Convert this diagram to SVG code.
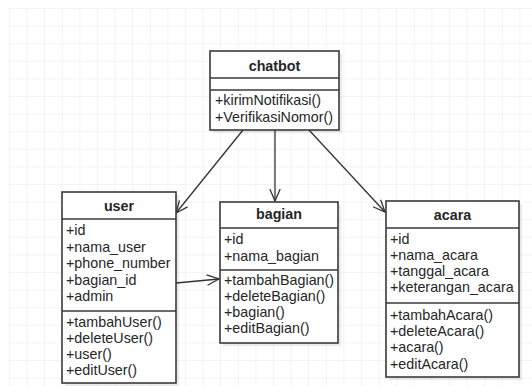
<svg xmlns="http://www.w3.org/2000/svg" width="532" height="386" viewBox="0 0 532 386">
  <defs>
    <pattern id="grid" x="9" y="8" width="17.6" height="17.6" patternUnits="userSpaceOnUse">
      <path d="M0,0 H17.6 M0,0 V17.6" fill="none" stroke="#e8e8e8" stroke-width="1"/>
    </pattern>
    <marker id="open" viewBox="0 0 14 14" refX="13" refY="7" markerWidth="14" markerHeight="14" markerUnits="userSpaceOnUse" orient="auto">
      <path d="M1,1.8 L13,7 L1,12.2" fill="none" stroke="#333" stroke-width="1.3"/>
    </marker>
    <style>
      .box { fill: #fff; stroke: #3a3a3a; stroke-width: 1.6; }
      .shadow { fill: #000; opacity: 0.08; }
      .sep { stroke: #3a3a3a; stroke-width: 1.6; }
      text { font-family: "Liberation Sans", Arial, sans-serif; font-size: 14.3px; fill: #262626; }
      .title { font-weight: bold; text-anchor: middle; }
      .edge { fill: none; stroke: #333; stroke-width: 1.3; marker-end: url(#open); }
    </style>
  </defs>

  <!-- canvas -->
  <rect width="532" height="386" fill="#fff"/>
  <rect x="9" y="8" width="523" height="378" fill="url(#grid)"/>

  <!-- connectors -->
  <g id="connectors">
    <path class="edge" d="M243,130 L176,213"/>
    <path class="edge" d="M275,130 L275,201"/>
    <path class="edge" d="M309,130 L385,212"/>
    <path class="edge" d="M176,283 L219,279"/>
  </g>

  <!-- chatbot -->
  <g id="chatbot">
    <rect class="shadow" x="213" y="54" width="129" height="79"/>
    <rect class="box" x="210" y="51" width="129" height="79"/>
    <line class="sep" x1="210" y1="78" x2="339" y2="78"/>
    <line class="sep" x1="210" y1="90" x2="339" y2="90"/>
    <text class="title" x="274.5" y="71">chatbot</text>
    <text x="215" y="105">+kirimNotifikasi()</text>
    <text x="215" y="121.5">+VerifikasiNomor()</text>
  </g>

  <!-- user -->
  <g id="user">
    <rect class="shadow" x="65" y="195" width="114" height="191"/>
    <rect class="box" x="62" y="192" width="114" height="191"/>
    <line class="sep" x1="62" y1="219" x2="176" y2="219"/>
    <line class="sep" x1="62" y1="311" x2="176" y2="311"/>
    <text class="title" x="119" y="211">user</text>
    <text x="66" y="235">+id</text>
    <text x="66" y="251.5">+nama_user</text>
    <text x="66" y="268">+phone_number</text>
    <text x="66" y="284.5">+bagian_id</text>
    <text x="66" y="301">+admin</text>
    <text x="66" y="326.5">+tambahUser()</text>
    <text x="66" y="343">+deleteUser()</text>
    <text x="66" y="359">+user()</text>
    <text x="66" y="375">+editUser()</text>
  </g>

  <!-- bagian -->
  <g id="bagian">
    <rect class="shadow" x="223" y="205" width="118" height="141"/>
    <rect class="box" x="220" y="202" width="118" height="141"/>
    <line class="sep" x1="220" y1="228" x2="338" y2="228"/>
    <line class="sep" x1="220" y1="270" x2="338" y2="270"/>
    <text class="title" x="279" y="219">bagian</text>
    <text x="224" y="243.5">+id</text>
    <text x="224" y="260.5">+nama_bagian</text>
    <text x="224" y="285">+tambahBagian()</text>
    <text x="224" y="301">+deleteBagian()</text>
    <text x="224" y="317">+bagian()</text>
    <text x="224" y="333">+editBagian()</text>
  </g>

  <!-- acara -->
  <g id="acara">
    <rect class="shadow" x="389" y="204" width="133" height="176"/>
    <rect class="box" x="386" y="201" width="133" height="176"/>
    <line class="sep" x1="386" y1="228" x2="519" y2="228"/>
    <line class="sep" x1="386" y1="303" x2="519" y2="303"/>
    <text class="title" x="452.5" y="220">acara</text>
    <text x="390" y="243.5">+id</text>
    <text x="390" y="260">+nama_acara</text>
    <text x="390" y="276">+tanggal_acara</text>
    <text x="390" y="292">+keterangan_acara</text>
    <text x="390" y="320">+tambahAcara()</text>
    <text x="390" y="336">+deleteAcara()</text>
    <text x="390" y="352">+acara()</text>
    <text x="390" y="368.5">+editAcara()</text>
  </g>
</svg>
